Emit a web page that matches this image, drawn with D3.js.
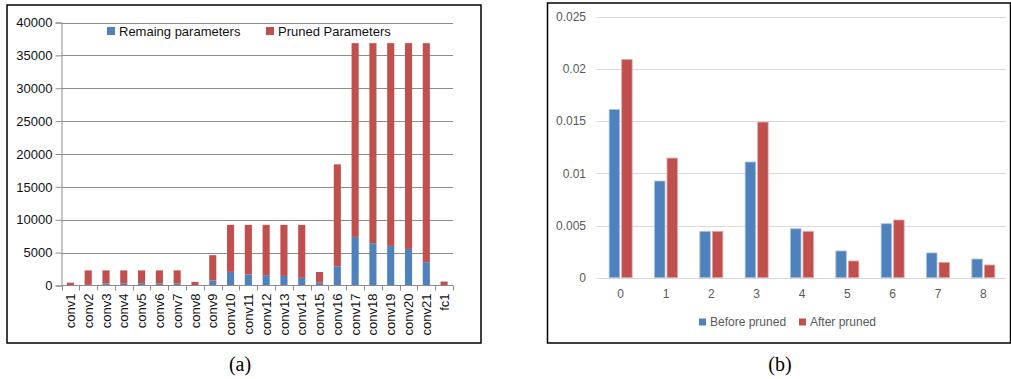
<!DOCTYPE html>
<html>
<head>
<meta charset="utf-8">
<script src="https://cdn.jsdelivr.net/npm/d3@7/dist/d3.min.js"></script>
<style>
  html, body { margin: 0; padding: 0; background: #fff; }
  svg { display: block; }
</style>
</head>
<body>
<svg id="fig" width="1011" height="379"></svg>
<script>
// (a) parameters per layer, remaining vs pruned
const layers = ["conv1","conv2","conv3","conv4","conv5","conv6","conv7","conv8","conv9","conv10","conv11",
  "conv12","conv13","conv14","conv15","conv16","conv17","conv18","conv19","conv20","conv21","fc1"];
const remaining = [30, 100, 300, 300, 350, 300, 300, 50, 760, 2070, 1670,
  1570, 1460, 1160, 460, 2930, 7390, 6430, 6020, 5560, 3540, 40];
const pruned = [400, 2200, 2000, 2000, 1950, 2000, 2000, 500, 3850, 7150, 7550,
  7650, 7760, 8060, 1590, 15500, 29470, 30430, 30840, 31300, 33320, 560];
const leftTicks = [0, 5000, 10000, 15000, 20000, 25000, 30000, 35000, 40000];
const leftSeries = ["Remaing parameters", "Pruned Parameters"];

// (b) distribution before / after pruning
const bins = ["0","1","2","3","4","5","6","7","8"];
const beforePruned = [0.0161, 0.00926, 0.00444, 0.01108, 0.00469, 0.00256, 0.00517, 0.00237, 0.00179];
const afterPruned = [0.0209, 0.01146, 0.00444, 0.01491, 0.00444, 0.0016, 0.00553, 0.00147, 0.00122];
const rightTicks = [0, 0.005, 0.01, 0.015, 0.02, 0.025];
const rightSeries = ["Before pruned", "After pruned"];

const BLUE = "#4f81bd", RED = "#c0504d";
const svg = d3.select("#fig");
const font = "'Liberation Sans', Arial, sans-serif";
const serif = "'Liberation Serif', 'Times New Roman', serif";

// ---------- panel (a) ----------
const A = svg.append("g");
A.append("rect").attr("x", 7).attr("y", 5).attr("width", 474).attr("height", 338)
  .attr("fill", "none").attr("stroke", "#000").attr("stroke-width", 1.5);

const ax0 = 61.5, ax1 = 453, ay0 = 285.5, ay1 = 22.5;
const xa = d3.scaleBand().domain(layers).range([ax0, ax1]).paddingInner(0.6).paddingOuter(0.3);
const ya = d3.scaleLinear().domain([0, 40000]).range([ay0, ay1]);

// gridlines
A.append("g").selectAll("line").data(leftTicks.filter(d => d > 0)).join("line")
  .attr("x1", ax0).attr("x2", ax1)
  .attr("y1", d => Math.round(ya(d)) + 0.5).attr("y2", d => Math.round(ya(d)) + 0.5)
  .attr("stroke", "#8c8c8c").attr("stroke-width", 1);

// stacked bars
const stackData = layers.map((l, i) => ({ layer: l, rem: remaining[i], pru: pruned[i] }));
const stacks = d3.stack().keys(["rem", "pru"])(stackData);
A.append("g").selectAll("g").data(stacks).join("g")
  .attr("fill", (d, i) => i === 0 ? BLUE : RED)
  .selectAll("rect").data(d => d).join("rect")
  .attr("x", d => xa(d.data.layer))
  .attr("width", xa.bandwidth())
  .attr("y", d => ya(d[1]))
  .attr("height", d => ya(d[0]) - ya(d[1]));

// y axis
const yAxisA = A.append("g").attr("transform", `translate(${ax0},0)`)
  .call(d3.axisLeft(ya).tickValues(leftTicks).tickSize(6).tickPadding(3).tickFormat(d3.format("d")));
yAxisA.select(".domain").attr("stroke", "#8c8c8c");
yAxisA.selectAll(".tick line").attr("stroke", "#8c8c8c");
yAxisA.selectAll("text").attr("font-family", font).attr("font-size", 13).attr("fill", "#111");

// x axis
const xAxisA = A.append("g").attr("transform", `translate(0,${ay0})`)
  .call(d3.axisBottom(xa).tickSize(0).tickPadding(0));
xAxisA.select(".domain").attr("stroke", "#8c8c8c").attr("d", `M${ax0},0H${ax1}`);
xAxisA.selectAll(".tick text")
  .attr("font-family", font).attr("font-size", 13).attr("fill", "#111")
  .attr("transform", "rotate(-90)").attr("text-anchor", "end")
  .attr("x", -8).attr("y", 0).attr("dy", "0.35em");
// tick marks at band boundaries
const bounds = d3.range(layers.length + 1).map(i => ax0 + i * (ax1 - ax0) / layers.length);
xAxisA.append("g").selectAll("line").data(bounds).join("line")
  .attr("x1", d => Math.round(d) + 0.5).attr("x2", d => Math.round(d) + 0.5)
  .attr("y1", 0).attr("y2", 5).attr("stroke", "#8c8c8c");

// legend (a)
const legA = A.append("g");
[[107, 0], [266, 1]].forEach(([x, i]) => {
  legA.append("rect").attr("x", x).attr("y", 27).attr("width", 8).attr("height", 8)
    .attr("fill", i === 0 ? BLUE : RED);
  legA.append("text").attr("x", x + 12).attr("y", 31).attr("dy", "0.35em")
    .attr("font-family", font).attr("font-size", 13).attr("fill", "#111").text(leftSeries[i]);
});

// ---------- panel (b) ----------
const B = svg.append("g");
B.append("rect").attr("x", 547.5).attr("y", 3).attr("width", 463).attr("height", 340)
  .attr("fill", "none").attr("stroke", "#000").attr("stroke-width", 1.5);

const bx0 = 598, bx1 = 1006, by0 = 277.7, by1 = 16.7;
const xb = d3.scaleBand().domain(bins).range([bx0, bx1]);
const yb = d3.scaleLinear().domain([0, 0.025]).range([by0, by1]);
const barW = 10.5, gap = 2;

B.append("g").selectAll("line").data(rightTicks).join("line")
  .attr("x1", bx0 - 1).attr("x2", bx1)
  .attr("y1", d => Math.round(yb(d)) + 0.5).attr("y2", d => Math.round(yb(d)) + 0.5)
  .attr("stroke", "#d9d9d9").attr("stroke-width", 1);

const groupData = bins.map((b, i) => ({ bin: b, vals: [beforePruned[i], afterPruned[i]] }));
B.append("g").selectAll("g").data(groupData).join("g")
  .selectAll("rect").data(d => d.vals.map((v, k) => ({ bin: d.bin, v, k }))).join("rect")
  .attr("x", d => xb(d.bin) + xb.bandwidth() / 2 + (d.k === 0 ? -barW - gap / 2 : gap / 2))
  .attr("width", barW)
  .attr("y", d => yb(d.v))
  .attr("height", d => yb(0) - yb(d.v))
  .attr("fill", d => d.k === 0 ? BLUE : RED)
  .attr("stroke", d => d.k === 0 ? "#a9c1e0" : "#e3a9a7").attr("stroke-width", 0.8);

// y axis labels (no line)
const yAxisB = B.append("g").attr("transform", `translate(${bx0},0)`)
  .call(d3.axisLeft(yb).tickValues(rightTicks).tickSize(0).tickPadding(12)
    .tickFormat(d => d === 0 ? "0" : String(+d.toFixed(3))));
yAxisB.select(".domain").remove();
yAxisB.selectAll("text").attr("font-family", font).attr("font-size", 12).attr("fill", "#595959");

const xAxisB = B.append("g").attr("transform", `translate(0,${by0})`)
  .call(d3.axisBottom(xb).tickSize(0).tickPadding(12));
xAxisB.select(".domain").remove();
xAxisB.selectAll("text").attr("font-family", font).attr("font-size", 12).attr("fill", "#595959");

// legend (b)
const legB = B.append("g");
[[699, 0], [799, 1]].forEach(([x, i]) => {
  legB.append("rect").attr("x", x).attr("y", 318.5).attr("width", 7).attr("height", 7)
    .attr("fill", i === 0 ? BLUE : RED);
  legB.append("text").attr("x", x + 11).attr("y", 322).attr("dy", "0.35em")
    .attr("font-family", font).attr("font-size", 12).attr("fill", "#595959").text(rightSeries[i]);
});

// captions
svg.append("text").attr("x", 240).attr("y", 371).attr("text-anchor", "middle")
  .attr("font-family", serif).attr("font-size", 20).text("(a)");
svg.append("text").attr("x", 780).attr("y", 371).attr("text-anchor", "middle")
  .attr("font-family", serif).attr("font-size", 20).text("(b)");
</script>
</body>
</html>
